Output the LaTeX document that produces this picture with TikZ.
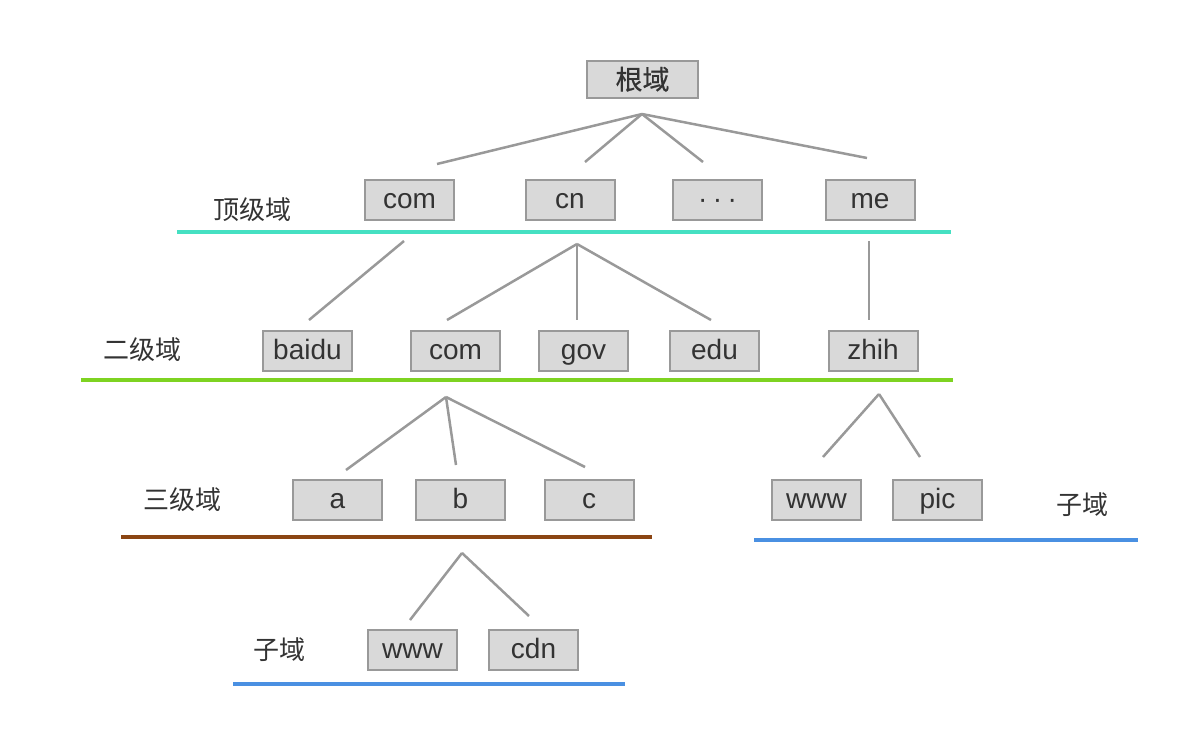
\documentclass[tikz,border=0pt]{standalone}
\usepackage{fontspec}
\setmainfont{Liberation Sans}
\newfontfamily\cjk{Noto Sans CJK SC}
\newfontfamily\cjkheavy[FakeBold=0.6]{Noto Sans CJK SC}
\definecolor{boxfill}{HTML}{D9D9D9}
\definecolor{boxline}{HTML}{999999}
\definecolor{conn}{HTML}{999999}
\definecolor{txt}{HTML}{333333}
\definecolor{teal1}{HTML}{45E0C2}
\definecolor{green1}{HTML}{7ED321}
\definecolor{brown1}{HTML}{8B4513}
\definecolor{blue1}{HTML}{4A90E2}
\tikzset{
  dbox/.style={draw=boxline, fill=boxfill, line width=2pt, minimum width=89pt, minimum height=40pt,
    inner sep=0pt, text=txt, font=\fontsize{28}{32}\selectfont, text height=20pt, text depth=4pt},
  lvl/.style={text=txt, font=\cjk\fontsize{26}{30}\selectfont, inner sep=0pt},
  conline/.style={draw=conn, line width=2.5pt},
  levelline/.style={line width=4.5pt}
}
\begin{document}
\begin{tikzpicture}[x=1pt,y=-1pt]
\useasboundingbox (0,0) rectangle (1200,734);
% root
\node[dbox, minimum width=111pt, minimum height=37pt, font=\cjkheavy\fontsize{27}{30}\selectfont, text height=22pt, text depth=1pt] (root) at (642.5,79) {根域};
% top level
\node[dbox] (com1) at (409.5,200) {com};
\node[dbox] (cn) at (570,200) {cn};
\node[dbox, text height=21pt, text depth=5pt] (dots) at (717.5,200) {·\hspace{5.5pt}·\hspace{5.5pt}·};
\node[dbox] (me) at (870,200) {me};
\node[lvl] (l1) at (252,210) {顶级域};
\draw[levelline, teal1] (177,232) coordinate (t1a) -- (951,232) coordinate (t1b);
% root connectors
\coordinate (r0) at (642,114);
\coordinate (r1) at (437,164);
\coordinate (r2) at (585,162);
\coordinate (r3) at (703,162);
\coordinate (r4) at (867,158);
\draw[conline] (r0) -- (r1);
\draw[conline] (r0) -- (r2);
\draw[conline] (r0) -- (r3);
\draw[conline] (r0) -- (r4);
% second level
\node[dbox] (baidu) at (307.5,351) {baidu};
\node[dbox] (com2) at (455.5,351) {com};
\node[dbox] (gov) at (583.5,351) {gov};
\node[dbox] (edu) at (714.5,351) {edu};
\node[dbox] (zhih) at (873,351) {zhih};
\node[lvl] (l2) at (142,350) {二级域};
\draw[levelline, green1] (81,380) -- (953,380);
\coordinate (a0) at (404,241);
\coordinate (a1) at (309,320);
\coordinate (b0) at (577,244);
\coordinate (b1) at (447,320);
\coordinate (b2) at (577,320);
\coordinate (b3) at (711,320);
\coordinate (c0) at (869,241);
\coordinate (c1) at (869,320);
\draw[conline] (a0) -- (a1);
\draw[conline] (b0) -- (b1);
\draw[conline] (b0) -- (b2);
\draw[conline] (b0) -- (b3);
\draw[conline] (c0) -- (c1);
% third level
\node[dbox] (a) at (337.5,500) {a};
\node[dbox] (b) at (460.5,500) {b};
\node[dbox] (c) at (589,500) {c};
\node[dbox] (www1) at (816.5,500) {www};
\node[dbox] (pic) at (937.5,500) {pic};
\node[lvl] (l3) at (182,500) {三级域};
\node[lvl] (l4) at (1082,505) {子域};
\draw[levelline, brown1] (121,537) -- (652,537);
\draw[levelline, blue1] (754,540) -- (1138,540);
\coordinate (d0) at (446,397);
\coordinate (d1) at (346,470);
\coordinate (d2) at (456,465);
\coordinate (d3) at (585,467);
\coordinate (e0) at (879,394);
\coordinate (e1) at (823,457);
\coordinate (e2) at (920,457);
\draw[conline] (d0) -- (d1);
\draw[conline] (d0) -- (d2);
\draw[conline] (d0) -- (d3);
\draw[conline] (e0) -- (e1);
\draw[conline] (e0) -- (e2);
% sub level
\node[dbox] (www2) at (412.5,650) {www};
\node[dbox] (cdn) at (533.5,650) {cdn};
\node[lvl] (l5) at (279,650) {子域};
\draw[levelline, blue1] (233,684) -- (625,684);
\coordinate (f0) at (462,553);
\coordinate (f1) at (410,620);
\coordinate (f2) at (529,616);
\draw[conline] (f0) -- (f1);
\draw[conline] (f0) -- (f2);
\end{tikzpicture}
\end{document}
